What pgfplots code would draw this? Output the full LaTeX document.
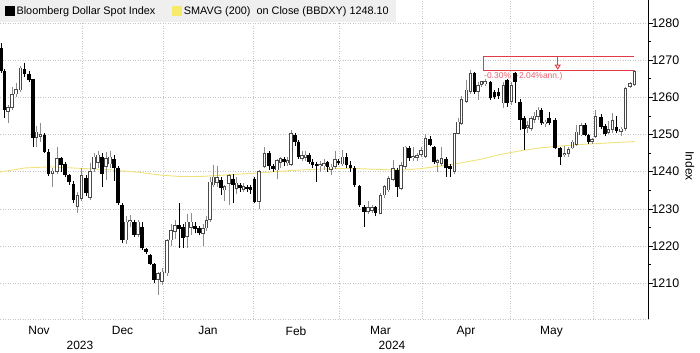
\documentclass[border=0pt]{standalone}
\usepackage{pgfplots}
\pgfplotsset{compat=1.18}
\usepackage{pgfplotstable}
\usepackage{fontspec}
\setmainfont{Liberation Sans}
\usetikzlibrary{arrows.meta}
\definecolor{gridc}{HTML}{C4C4C4}
\definecolor{legbg}{HTML}{EFEFEF}
\definecolor{maY}{HTML}{F0E27A}
\definecolor{legY}{HTML}{F5EA6A}
\definecolor{annR}{HTML}{E23A47}
\definecolor{annT}{HTML}{E8606E}
\definecolor{wickG}{HTML}{8C8C8C}
\definecolor{outG}{HTML}{4A4A4A}

% up (close >= open) candles: position, open, high, low, close
\pgfplotstableread{
d O H L C
8 1256.2 1258.0 1253.0 1257.4
12 1257.2 1262.8 1256.5 1260.8
16 1260.8 1263.9 1260.0 1262.1
20.5 1261.9 1268.5 1261.5 1267.9
36.5 1249.2 1252.4 1246.7 1250.7
40.5 1249.5 1253.0 1248.0 1250.0
52.5 1239.5 1241.0 1236.0 1240.2
57 1240.0 1246.7 1239.5 1243.6
77.5 1230.6 1234.5 1229.0 1233.7
81.5 1232.8 1241.0 1232.0 1239.1
90 1233.0 1242.2 1232.5 1240.0
94 1240.9 1245.0 1240.0 1244.0
98 1242.5 1245.5 1241.0 1244.5
106 1241.3 1245.4 1237.8 1243.6
110 1242.0 1245.5 1241.0 1244.0
126 1221.6 1228.0 1220.5 1226.5
130 1226.5 1228.3 1225.0 1227.0
138 1223.0 1227.0 1222.5 1226.5
158 1210.9 1213.0 1206.8 1212.7
162 1210.4 1214.0 1209.5 1213.1
167 1212.7 1222.0 1212.0 1221.6
171 1221.6 1226.0 1220.0 1224.3
175 1223.9 1227.0 1222.0 1225.6
187 1222.5 1228.5 1219.5 1226.5
191 1225.0 1229.0 1223.0 1226.5
203 1223.4 1226.0 1220.0 1224.7
206.5 1224.8 1228.0 1224.0 1227.0
210 1227.0 1238.5 1226.5 1237.3
213.5 1236.4 1241.8 1236.0 1238.6
217 1237.0 1241.5 1236.0 1238.5
224.5 1235.0 1236.5 1232.2 1236.0
229 1236.8 1239.5 1231.0 1239.0
236.5 1235.5 1238.5 1234.0 1237.0
243.5 1235.2 1237.0 1234.5 1236.0
259 1231.9 1240.5 1230.0 1240.0
264.5 1241.3 1246.7 1241.0 1245.0
277 1240.4 1243.5 1238.0 1243.1
280.5 1242.5 1244.0 1241.0 1243.5
287.5 1242.3 1244.0 1241.5 1243.0
291 1241.8 1251.2 1241.5 1250.3
302 1243.5 1245.5 1243.0 1244.3
305.5 1243.8 1245.5 1243.0 1244.5
320 1241.5 1243.0 1240.0 1242.0
324 1241.5 1243.5 1240.5 1242.2
331 1240.5 1242.0 1239.0 1241.3
335 1241.3 1245.5 1240.8 1243.4
342.5 1242.0 1245.8 1241.5 1244.0
368 1229.2 1232.0 1228.5 1230.4
372 1229.5 1231.0 1229.0 1230.5
380.5 1228.8 1234.2 1228.5 1233.7
384.5 1233.7 1236.5 1233.0 1236.0
388.5 1235.0 1238.8 1234.5 1238.2
393 1237.9 1243.1 1237.5 1240.9
401 1235.5 1242.5 1235.0 1241.8
405 1241.3 1247.0 1240.8 1246.7
413 1243.6 1246.5 1243.0 1244.2
417 1243.8 1245.0 1243.0 1244.3
421 1244.5 1246.7 1244.0 1245.8
425.5 1244.0 1250.0 1243.8 1249.0
437.5 1242.5 1243.5 1240.0 1243.0
441.5 1242.2 1246.5 1241.5 1243.6
454.5 1240.0 1250.5 1239.5 1250.3
458 1250.3 1254.5 1250.0 1253.4
461.5 1253.0 1260.3 1252.5 1259.4
466.5 1258.8 1264.6 1258.5 1262.0
470.5 1261.5 1267.3 1261.0 1266.4
478 1261.5 1264.0 1259.2 1263.3
481.5 1263.3 1264.5 1262.8 1264.2
485 1263.5 1265.0 1263.0 1264.3
503.5 1258.4 1264.0 1257.0 1263.3
511.5 1258.8 1264.0 1258.0 1263.3
527.5 1251.8 1253.5 1250.5 1252.5
531 1251.6 1255.0 1251.0 1254.3
534.5 1254.0 1256.0 1253.0 1255.0
538 1254.8 1257.5 1254.0 1256.6
545 1252.8 1254.0 1252.0 1253.4
564.5 1244.5 1247.0 1244.0 1245.0
568.5 1244.8 1246.5 1244.0 1246.0
572.5 1246.3 1248.5 1246.0 1248.0
576.5 1247.2 1252.5 1247.0 1250.7
581 1249.8 1253.0 1249.5 1252.5
592 1248.0 1249.0 1247.5 1248.7
595.5 1249.4 1256.6 1249.0 1254.8
608.5 1250.5 1253.5 1250.0 1251.3
612.5 1251.2 1255.8 1250.5 1253.9
621 1250.8 1252.0 1249.5 1251.5
625.5 1251.6 1262.8 1251.0 1262.4
630 1262.8 1264.0 1262.5 1263.7
634.5 1263.3 1267.3 1263.0 1266.9
}\upT

% down (close < open) candles
\pgfplotstableread{
d O H L C
1 1273.2 1274.5 1266.5 1267.0
4.5 1267.0 1267.5 1254.4 1256.6
24.5 1267.5 1269.3 1265.5 1266.2
29 1266.2 1267.0 1264.0 1264.6
33 1264.8 1265.0 1246.7 1249.0
44.5 1249.8 1250.5 1245.0 1245.4
48.5 1245.4 1246.0 1238.8 1239.5
61 1243.6 1244.0 1240.0 1241.8
65 1242.0 1242.5 1238.5 1239.1
69 1239.1 1239.5 1236.5 1237.3
73.5 1236.8 1237.5 1231.5 1232.4
86 1238.2 1239.0 1233.5 1234.2
102 1244.0 1245.0 1236.0 1239.5
114 1243.4 1244.5 1237.5 1241.0
118 1241.0 1241.5 1231.0 1231.5
122 1231.0 1231.5 1220.8 1221.6
134 1226.5 1227.0 1222.5 1223.0
142 1225.0 1226.5 1219.0 1219.4
146 1219.1 1219.5 1218.0 1218.5
150 1217.6 1218.0 1215.0 1215.3
154 1215.3 1215.5 1210.0 1210.9
179 1225.6 1231.5 1219.5 1224.5
183 1225.0 1226.0 1219.5 1222.2
195 1225.4 1226.5 1223.5 1224.5
199 1224.8 1225.5 1223.0 1223.5
221 1237.7 1238.5 1233.7 1235.5
233 1237.9 1239.5 1231.5 1236.4
240 1236.5 1237.0 1234.5 1235.5
247 1236.0 1236.5 1234.5 1235.3
250.5 1236.0 1236.5 1234.0 1235.0
254.5 1238.0 1238.5 1231.5 1231.9
269 1245.0 1245.5 1240.5 1241.5
273 1241.5 1242.0 1240.0 1240.8
284 1243.3 1244.0 1241.5 1242.6
295 1249.8 1250.5 1247.0 1248.0
298.5 1248.0 1248.5 1243.5 1244.0
309 1244.5 1245.0 1242.0 1242.7
312.5 1242.7 1243.5 1241.0 1241.8
316.5 1242.0 1242.5 1237.3 1241.5
327.5 1242.5 1243.0 1240.0 1241.2
338.5 1242.8 1243.5 1241.8 1242.3
346.5 1244.0 1245.0 1241.0 1241.8
350.5 1241.8 1243.0 1240.0 1240.9
354.5 1240.9 1241.5 1236.0 1236.4
359.5 1236.1 1236.5 1230.5 1231.0
364 1230.6 1231.0 1225.2 1229.2
375.5 1230.4 1230.8 1228.0 1229.0
397 1240.4 1241.0 1233.3 1236.0
409 1246.3 1246.8 1243.0 1243.6
430 1248.7 1249.5 1246.8 1247.2
434 1246.7 1247.0 1242.0 1242.7
446 1243.3 1244.0 1238.6 1240.9
450 1241.5 1242.0 1238.5 1240.8
474.5 1266.4 1266.8 1261.0 1261.5
490.5 1264.2 1264.5 1259.2 1259.7
494.5 1261.5 1262.0 1259.5 1260.0
498.5 1261.5 1262.5 1259.5 1260.3
507 1264.6 1265.0 1257.5 1258.4
515 1266.4 1266.8 1258.5 1264.2
520 1258.8 1259.5 1251.2 1253.9
524 1254.3 1255.0 1245.8 1251.6
541.5 1256.6 1257.0 1252.5 1253.0
549 1254.3 1256.0 1252.5 1253.0
555 1253.9 1254.5 1246.0 1246.3
560 1246.3 1246.5 1241.8 1244.0
585 1252.5 1253.0 1249.5 1249.8
588.5 1249.8 1250.0 1247.5 1248.0
601 1254.8 1255.5 1251.5 1252.1
605 1252.3 1252.8 1249.5 1250.0
616.5 1252.0 1255.0 1250.5 1251.0
}\downT

% 200-day simple moving average
\pgfplotstableread{
d ma
0 1239.9
25 1241.0
50 1241.3
80 1240.9
110 1240.5
140 1239.8
160 1239.1
180 1238.7
200 1238.7
225 1239.1
260 1239.7
290 1240.3
320 1240.7
350 1240.9
380 1240.6
400 1240.4
420 1240.8
440 1241.5
460 1242.3
480 1243.3
500 1244.6
520 1245.6
540 1246.4
560 1246.9
580 1247.3
600 1247.6
620 1247.9
635 1248.1
}\maT

\begin{document}
\begin{tikzpicture}
\useasboundingbox (0,0) rectangle (700bp,353bp);
\begin{axis}[
  at={(0bp,34bp)}, anchor=south west,
  scale only axis, width=648bp, height=319bp,
  xmin=0, xmax=648, ymin=1200.4, ymax=1286.15,
  clip=false,
  axis x line*=bottom, axis y line*=right,
  x axis line style={draw=gridc, dash pattern=on 1bp off 1.5bp, -},
  y axis line style={black, line width=0.7bp, -},
  /pgf/number format/assume math mode=true,
  /pgf/number format/1000 sep={},
  ytick={1210,1220,...,1280},
  minor y tick num=1,
  tick align=outside,
  major tick length=5bp, minor tick length=3bp,
  ytick style={black, line width=0.7bp},
  yticklabel style={font=\fontsize{12.5}{14}\selectfont, xshift=-5bp},
  ymajorgrids,
  xtick={39,122.5,208,296,380.5,466,551.5},
  xticklabels={Nov,Dec,Jan,Feb,Mar,Apr,May},
  xtick style={draw=none},
  xticklabel style={font=\fontsize{12}{14}\selectfont, yshift=1bp},
  extra x ticks={82,163,253,339,422,510,593},
  extra x tick labels={},
  extra x tick style={grid=major, tick style={draw=none}},
  grid style={draw=gridc, dash pattern=on 1bp off 1.5bp, line width=0.5bp},
  legend style={at={(rel axis cs:0,1)}, anchor=north west, draw=none, fill=legbg,
    font=\fontsize{10.9}{12}\selectfont, inner xsep=5bp, inner ysep=4bp,
    legend columns=2, /tikz/every even column/.append style={column sep=15bp}},
  legend cell align=left,
]
\addlegendimage{legend image code/.code={\fill[black] (0bp,-4.5bp) rectangle (9bp,4.5bp);}}
\addlegendentry{Bloomberg Dollar Spot Index}
\addlegendimage{legend image code/.code={\fill[legY] (0bp,-4.5bp) rectangle (9bp,4.5bp);}}
\addlegendentry{SMAVG (200)\ \ on Close (BBDXY) 1248.10}

% annotation
\draw[annR, line width=1bp] (axis cs:483,1270.9) -- (axis cs:634,1270.9);
\draw[annR, line width=1bp] (axis cs:483,1267.3) -- (axis cs:634,1267.3);
\draw[annR, line width=1bp] (axis cs:483,1270.9) -- (axis cs:483,1267.3);
\draw[annR, line width=0.9bp, -{Triangle[open, width=6bp, length=5bp]}] (axis cs:557.7,1270.9) -- (axis cs:557.7,1267.4);
\node[annT, anchor=north west, font=\fontsize{8.5}{9}\selectfont, inner sep=0.5bp] at (axis cs:483.5,1267.0) {-0.30\% (-2.04\%ann.)};

% moving average
\addplot[forget plot, maY, line width=0.9bp] table[x=d, y=ma] {\maT};

% wicks
\addplot[forget plot, wickG, line width=0.8bp, quiver={u=0, v=\thisrow{H}-\thisrow{L}}] table[x=d, y=L] {\upT};
\addplot[forget plot, black, line width=0.8bp, quiver={u=0, v=\thisrow{H}-\thisrow{L}}] table[x=d, y=L] {\downT};
% bodies
\addplot[forget plot, black, line width=3.4bp, quiver={u=0, v=\thisrow{O}-\thisrow{C}}] table[x=d, y=C] {\downT};
\addplot[forget plot, outG, line width=3.4bp, quiver={u=0, v=\thisrow{C}-\thisrow{O}+0.1}] table[x=d, y expr=\thisrow{O}-0.05] {\upT};
\addplot[forget plot, white, line width=1.9bp, quiver={u=0, v={max(\thisrow{C}-\thisrow{O}-0.3,0)}}] table[x=d, y expr=\thisrow{O}+0.15] {\upT};

% year labels and axis title
\node[font=\fontsize{12}{14}\selectfont] at ([yshift=-26bp]axis cs:80,1200.4) {2023};
\node[font=\fontsize{12}{14}\selectfont] at ([yshift=-26bp]axis cs:392,1200.4) {2024};
\node[font=\fontsize{12}{14}\selectfont, rotate=-90] at ([xshift=42bp]axis cs:648,1241.5) {Index};
\end{axis}
\end{tikzpicture}
\end{document}
